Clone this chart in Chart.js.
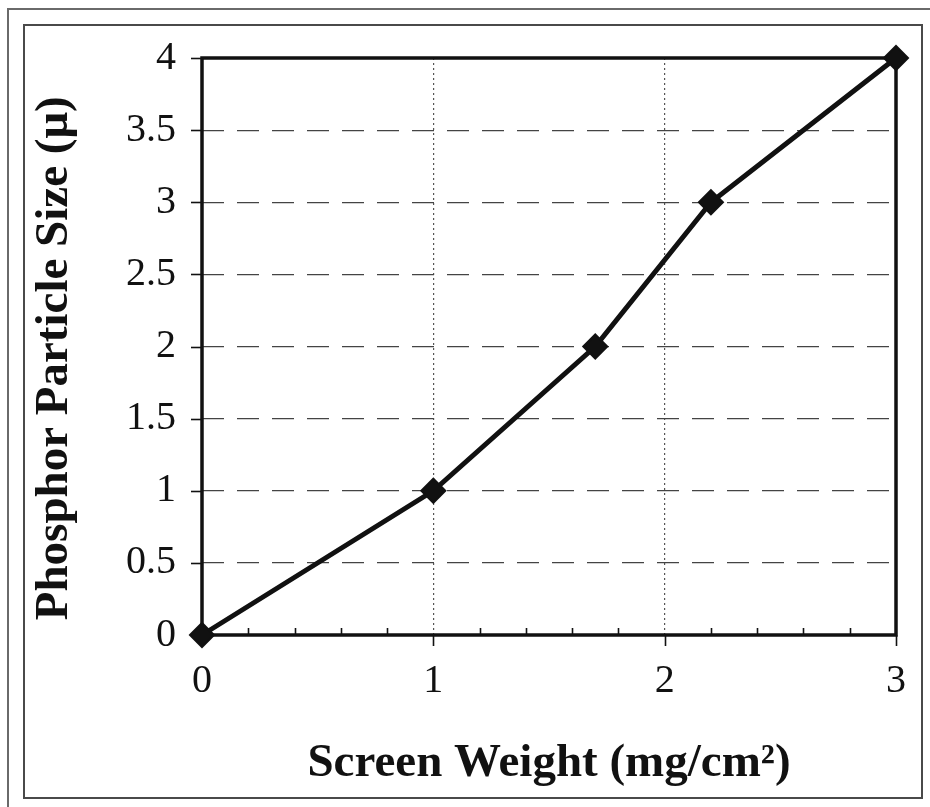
<!DOCTYPE html>
<html>
<head>
<meta charset="utf-8">
<script src="https://cdn.jsdelivr.net/npm/chart.js@4"></script>
<style>
  html, body { margin: 0; padding: 0; background: #fff; }
  body { width: 930px; height: 807px; position: relative; overflow: hidden; }
  .outer { position: absolute; left: 7px; top: 8px; width: 940px; height: 820px; border: 2px solid #6a6a6a; }
  .inner { position: absolute; left: 23px; top: 24px; width: 896px; height: 771px; border: 2px solid #4a4a4a; }
  #chart { position: absolute; left: 0; top: 0; }
</style>
</head>
<body>
<div class="outer"></div>
<div class="inner"></div>
<canvas id="chart" width="930" height="807"></canvas>
<script>
const screenWeight = [0, 1, 1.7, 2.2, 3];
const particleSize = [0, 1, 2, 3, 4];
const xTickLabels = ['0', '1', '2', '3'];
const yTickLabels = ['0', '0.5', '1', '1.5', '2', '2.5', '3', '3.5', '4'];

const xTitle = 'Screen Weight (mg/cm²)';
const yTitle = 'Phosphor Particle Size (μ)';

const ink = '#111';
const serif = "'Liberation Serif', 'Times New Roman', serif";

// frame around the plot and the small tick marks
const axisMarks = {
  id: 'axisMarks',
  beforeDatasetsDraw(chart) {
    const { ctx, chartArea: a, scales: { x, y } } = chart;
    ctx.save();
    ctx.strokeStyle = ink;
    ctx.lineWidth = 1.6;
    for (let v = 0; v <= 3.001; v += 0.2) {
      const px = Math.round(x.getPixelForValue(v)) + 0.5;
      const major = Math.abs(v - Math.round(v)) < 0.01;
      ctx.beginPath();
      if (major) {
        ctx.moveTo(px, a.bottom);
        ctx.lineTo(px, a.bottom + 11);
      } else {
        ctx.moveTo(px, a.bottom);
        ctx.lineTo(px, a.bottom - 7);
      }
      ctx.stroke();
    }
    yTickLabels.forEach((_, i) => {
      const py = Math.round(y.getPixelForValue(i * 0.5)) + 0.5;
      ctx.beginPath();
      ctx.moveTo(a.left - 11, py);
      ctx.lineTo(a.left, py);
      ctx.stroke();
    });
    ctx.lineWidth = 3.5;
    ctx.strokeRect(a.left, a.top, a.right - a.left, a.bottom - a.top);
    ctx.restore();
  }
};

const ctx = document.getElementById('chart').getContext('2d');

new Chart(ctx, {
  type: 'line',
  data: {
    datasets: [{
      data: screenWeight.map((v, i) => ({ x: v, y: particleSize[i] })),
      borderColor: ink,
      borderWidth: 5,
      tension: 0,
      clip: false,
      pointStyle: 'rectRot',
      pointRadius: 12,
      pointBackgroundColor: ink,
      pointBorderColor: ink,
      pointBorderWidth: 2
    }]
  },
  options: {
    responsive: false,
    animation: false,
    layout: {
      autoPadding: false,
      padding: { left: 0, top: 58, right: 34, bottom: 0 }
    },
    plugins: {
      legend: { display: false },
      tooltip: { enabled: false }
    },
    scales: {
      x: {
        type: 'linear',
        min: 0,
        max: 3,
        afterFit: scale => { scale.height = 172; },
        ticks: {
          stepSize: 1,
          padding: 22,
          color: ink,
          font: { family: serif, size: 40 },
          callback: (v, i) => xTickLabels[i]
        },
        grid: { color: '#555', lineWidth: 1.2, drawTicks: false },
        border: { display: false, dash: [2, 3] },
        title: {
          display: true,
          text: xTitle,
          color: ink,
          font: { family: serif, size: 47, weight: 'bold' },
          padding: { top: 0, bottom: 15 }
        }
      },
      y: {
        min: 0,
        max: 4,
        afterFit: scale => { scale.width = 202; },
        ticks: {
          stepSize: 0.5,
          padding: 26,
          color: ink,
          font: { family: serif, size: 40 },
          callback: (v, i) => yTickLabels[i]
        },
        grid: { color: '#444', lineWidth: 1.2, drawTicks: false },
        border: { display: false, dash: [22, 13] },
        title: {
          display: true,
          // en space at the end nudges the rotated title down like the original
          text: yTitle + '\u2002',
          color: ink,
          font: { family: serif, size: 47, weight: 'bold' },
          padding: { top: 27, bottom: 0 }
        }
      }
    }
  },
  plugins: [axisMarks]
});
</script>
</body>
</html>
